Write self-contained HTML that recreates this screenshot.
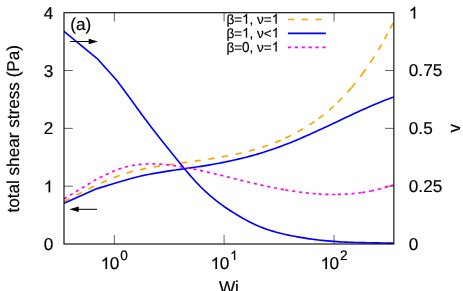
<!DOCTYPE html>
<html><head><meta charset="utf-8"><title>plot</title>
<style>html,body{margin:0;padding:0;background:#fff}body{width:463px;height:291px;overflow:hidden}</style></head>
<body>
<svg width="463" height="291" viewBox="0 0 463 291" style="display:block;will-change:transform;text-rendering:geometricPrecision;font-family:'Liberation Sans',sans-serif">
<path d="M114.33,244.00 v-9.00 M114.33,12.72 v8.80 M224.08,244.00 v-9.00 M224.08,12.72 v8.80 M334.04,244.00 v-9.00 M334.04,12.72 v8.80 M64.00,186.18 h8.80 M64.00,128.36 h8.80 M64.00,70.54 h8.80 M393.86,186.18 h-8.80 M393.86,128.36 h-8.80 M393.86,70.54 h-8.80" stroke="#000" stroke-width="0.62" fill="none"/>
<g fill="none" stroke-width="1.65" stroke-linejoin="round">
<path d="M64.00,201.30 L97.10,184.70 L116.50,176.50 L130.20,172.00 L140.80,169.58 L143.81,168.93 L146.83,168.32 L149.84,167.73 L152.85,167.16 L155.86,166.61 L158.88,166.08 L161.89,165.61 L164.90,165.17 L167.91,164.75 L170.93,164.34 L173.94,163.94 L176.95,163.55 L179.96,163.16 L182.98,162.78 L185.99,162.39 L189.00,161.96 L192.01,161.54 L195.03,161.11 L198.04,160.67 L201.05,160.23 L204.06,159.79 L207.08,159.33 L210.09,158.86 L213.10,158.39 L216.12,157.89 L219.13,157.38 L222.14,156.85 L225.15,156.30 L228.17,155.73 L231.18,155.14 L234.19,154.52 L237.20,153.87 L240.22,153.20 L243.23,152.49 L246.24,151.75 L249.25,150.98 L252.27,150.17 L255.28,149.32 L258.29,148.43 L261.30,147.50 L264.32,146.52 L267.33,145.50 L270.34,144.44 L273.36,143.32 L276.37,142.12 L279.38,140.84 L282.39,139.50 L285.32,138.14 M285.32,138.14 L285.41,138.10 L288.42,136.64 L291.43,135.12 L294.44,133.54 L297.46,131.95 L300.47,130.30 L303.48,128.57 L306.49,126.76 L309.51,124.87 L312.52,122.89 L315.53,120.81 L318.42,118.74 M318.42,118.74 L318.54,118.65 L321.56,116.38 L324.57,114.01 L327.58,111.54 L330.60,108.95 L333.61,106.25 L336.62,103.43 L337.78,102.30 M337.78,102.30 L339.63,100.49 L342.65,97.42 L345.66,94.22 L348.67,90.89 L351.52,87.61 M351.52,87.61 L351.68,87.42 L354.70,83.81 L357.71,80.05 L360.72,76.14 L362.17,74.18 M362.17,74.18 L363.73,72.07 L366.75,67.84 L369.76,63.44 L370.88,61.74 M370.88,61.74 L372.77,58.86 L375.78,54.10 L378.24,50.07 M378.24,50.07 L378.80,49.16 L381.81,44.02 L384.62,39.05 M384.62,39.05 L384.82,38.69 L387.83,33.14 L390.24,28.55 M390.24,28.55 L390.85,27.39 L393.86,21.42" stroke="#ffa500" stroke-dasharray="6.2 7.6"/>
<path d="M64.00,203.30 L97.10,188.60 L116.50,182.70 L130.20,178.70 L140.80,176.05 L143.81,175.42 L146.83,174.81 L149.84,174.23 L152.85,173.66 L155.86,173.12 L158.88,172.60 L161.89,172.09 L164.90,171.59 L167.91,171.10 L170.93,170.64 L173.94,170.22 L176.95,169.80 L179.96,169.38 L182.98,168.96 L185.99,168.54 L189.00,168.11 L192.01,167.68 L195.03,167.25 L198.04,166.80 L201.05,166.35 L204.06,165.89 L207.08,165.39 L210.09,164.86 L213.10,164.31 L216.12,163.76 L219.13,163.19 L222.14,162.60 L225.15,161.99 L228.17,161.37 L231.18,160.72 L234.19,160.06 L237.20,159.38 L240.22,158.67 L243.23,157.93 L246.24,157.18 L249.25,156.39 L252.27,155.58 L255.28,154.74 L258.29,153.87 L261.30,152.97 L264.32,152.04 L267.33,151.08 L270.34,150.08 L273.36,149.05 L276.37,147.98 L279.38,146.88 L282.39,145.75 L285.41,144.60 L288.42,143.41 L291.43,142.20 L294.44,140.96 L297.46,139.70 L300.47,138.42 L303.48,137.12 L306.49,135.80 L309.51,134.46 L312.52,133.11 L315.53,131.74 L318.54,130.36 L321.56,128.97 L324.57,127.56 L327.58,126.15 L330.60,124.73 L333.61,123.31 L336.62,121.88 L339.63,120.45 L342.65,119.02 L345.66,117.59 L348.67,116.17 L351.68,114.76 L354.70,113.35 L357.71,111.96 L360.72,110.58 L363.73,109.22 L366.75,107.88 L369.76,106.55 L372.77,105.26 L375.78,103.98 L378.80,102.74 L381.81,101.52 L384.82,100.34 L387.83,99.19 L390.85,98.09 L393.86,97.02" stroke="#0000ff"/>
<path d="M64.00,198.80 L97.10,178.90 L116.50,169.70 L130.20,165.70 L140.80,164.30 L143.81,164.09 L146.83,163.95 L149.84,163.89 L152.85,163.89 L155.86,163.96 L158.88,164.09 L161.89,164.28 L164.90,164.52 L167.91,164.82 L170.93,165.17 L173.94,165.56 L176.95,166.00 L179.96,166.47 L182.98,166.98 L185.99,167.52 L189.00,168.09 L192.01,168.69 L195.03,169.31 L198.04,169.95 L201.05,170.60 L204.06,171.28 L207.08,171.96 L210.09,172.67 L213.10,173.38 L216.12,174.10 L219.13,174.83 L222.14,175.57 L225.15,176.31 L228.17,177.06 L231.18,177.81 L234.19,178.56 L237.20,179.31 L240.22,180.06 L243.23,180.80 L246.24,181.54 L249.25,182.27 L252.27,182.99 L255.28,183.70 L258.29,184.40 L261.30,185.09 L264.32,185.76 L267.33,186.41 L270.34,187.05 L273.36,187.67 L276.37,188.26 L279.38,188.84 L282.39,189.40 L285.32,189.92 M285.32,189.92 L285.41,189.93 L288.42,190.44 L291.43,190.93 L294.44,191.39 L297.46,191.82 L300.47,192.22 L303.48,192.60 L306.49,192.94 L309.51,193.25 L312.52,193.53 L315.53,193.78 L318.42,193.98 M318.42,193.98 L318.54,193.99 L321.56,194.16 L324.57,194.30 L327.58,194.40 L330.60,194.46 L333.61,194.48 L336.62,194.46 L337.78,194.44 M337.78,194.44 L339.63,194.40 L342.65,194.29 L345.66,194.14 L348.67,193.94 L351.52,193.71 M351.52,193.71 L351.68,193.70 L354.70,193.41 L357.71,193.07 L360.72,192.68 L362.17,192.46 M362.17,192.46 L363.73,192.23 L366.75,191.74 L369.76,191.19 L370.88,190.97 M370.88,190.97 L372.77,190.59 L375.78,189.93 L378.24,189.35 M378.24,189.35 L378.80,189.22 L381.81,188.45 L384.62,187.68 M384.62,187.68 L384.82,187.62 L387.83,186.73 L390.24,185.97 M390.24,185.97 L390.85,185.78 L393.86,184.76" stroke="#ff00ff" stroke-dasharray="3.2 3.7"/>
<path d="M64.00,31.40 L96.90,58.30 L116.50,80.00 L130.20,98.50 L140.80,113.23 L143.81,117.32 L146.83,121.35 L149.84,125.32 L152.85,129.24 L155.86,133.11 L158.88,136.94 L161.89,140.74 L164.90,144.52 L167.91,148.29 L170.93,152.05 L173.94,155.81 L176.95,159.56 L179.96,163.28 L182.98,166.96 L185.99,170.58 L189.00,174.12 L192.01,177.58 L195.03,180.93 L198.04,184.15 L201.05,187.23 L204.06,190.17 L207.08,192.96 L210.09,195.62 L213.10,198.16 L216.12,200.59 L219.13,202.90 L222.14,205.11 L225.15,207.24 L228.17,209.27 L231.18,211.24 L234.19,213.13 L237.20,214.96 L240.22,216.74 L243.23,218.47 L246.24,220.12 L249.25,221.71 L252.27,223.23 L255.28,224.65 L258.29,225.99 L261.30,227.23 L264.32,228.39 L267.33,229.46 L270.34,230.45 L273.36,231.37 L276.37,232.23 L279.38,233.03 L282.39,233.77 L285.41,234.46 L288.42,235.11 L291.43,235.72 L294.44,236.30 L297.46,236.85 L300.47,237.38 L303.48,237.88 L306.49,238.36 L309.51,238.81 L312.52,239.23 L315.53,239.63 L318.54,239.99 L321.56,240.33 L324.57,240.65 L327.58,240.93 L330.60,241.19 L333.61,241.42 L336.62,241.62 L339.63,241.81 L342.65,241.97 L345.66,242.12 L348.67,242.25 L351.68,242.36 L354.70,242.46 L357.71,242.54 L360.72,242.62 L363.73,242.68 L366.75,242.74 L369.76,242.79 L372.77,242.84 L375.78,242.89 L378.80,242.93 L381.81,242.98 L384.82,243.03 L387.83,243.08 L390.85,243.14 L393.86,243.20" stroke="#0000ff"/>
<path d="M287.9,19.5 H325.8" stroke="#ffa500" stroke-dasharray="6.2 7.6"/>
<path d="M287.9,33.3 H325.8" stroke="#0000ff"/>
<path d="M287.9,47.3 H325.8" stroke="#ff00ff" stroke-dasharray="3.2 3.7"/>
</g>
<rect x="64.00" y="12.72" width="329.86" height="231.28" fill="none" stroke="#000" stroke-width="1.1"/>
<path d="M70,41.5 H92 M97.0,209.3 H75" stroke="#000" stroke-width="1" fill="none"/>
<path d="M97.9,41.5 L88.7,38.7 L88.7,44.3 Z M69.3,209.3 L78.7,206.5 L78.7,212.1 Z" fill="#000"/>
<g fill="#000" stroke="#000" stroke-width="0.18" stroke-linejoin="round">
<g transform="translate(53.30,250.10)"><text x="-9.57" y="0" font-size="17.20" xml:space="preserve">0</text></g>
<g transform="translate(53.30,192.28)"><path vector-effect="non-scaling-stroke" d="M763 0H583V1098Q518 1038 412.5 979Q307 920 223 890V1057Q374 1125 487 1221Q600 1318 647 1409H763Z" transform="translate(-9.57,0) scale(0.00840,-0.00840)"/></g>
<g transform="translate(53.30,134.46)"><text x="-9.57" y="0" font-size="17.20" xml:space="preserve">2</text></g>
<g transform="translate(53.30,76.64)"><text x="-9.57" y="0" font-size="17.20" xml:space="preserve">3</text></g>
<g transform="translate(53.30,18.82)"><text x="-9.57" y="0" font-size="17.20" xml:space="preserve">4</text></g>
<g transform="translate(408.80,249.90)"><text x="0.00" y="0" font-size="17.20" xml:space="preserve">0</text></g>
<g transform="translate(408.80,192.08)"><text x="0.00" y="0" font-size="17.20" xml:space="preserve">0.25</text></g>
<g transform="translate(408.80,134.26)"><text x="0.00" y="0" font-size="17.20" xml:space="preserve">0.5</text></g>
<g transform="translate(408.80,76.44)"><text x="0.00" y="0" font-size="17.20" xml:space="preserve">0.75</text></g>
<g transform="translate(408.80,18.62)"><path vector-effect="non-scaling-stroke" d="M763 0H583V1098Q518 1038 412.5 979Q307 920 223 890V1057Q374 1125 487 1221Q600 1318 647 1409H763Z" transform="translate(0.00,0) scale(0.00840,-0.00840)"/></g>
<g transform="translate(100.63,269.00)"><path vector-effect="non-scaling-stroke" d="M763 0H583V1098Q518 1038 412.5 979Q307 920 223 890V1057Q374 1125 487 1221Q600 1318 647 1409H763Z" transform="translate(0.00,0) scale(0.00840,-0.00840)"/></g>
<g transform="translate(109.70,269.00)"><text x="0.00" y="0" font-size="17.20" xml:space="preserve">0</text></g>
<g transform="translate(120.13,260.00)"><text x="0.00" y="0" font-size="13.70" xml:space="preserve">0</text></g>
<g transform="translate(210.58,269.00)"><path vector-effect="non-scaling-stroke" d="M763 0H583V1098Q518 1038 412.5 979Q307 920 223 890V1057Q374 1125 487 1221Q600 1318 647 1409H763Z" transform="translate(0.00,0) scale(0.00840,-0.00840)"/></g>
<g transform="translate(219.65,269.00)"><text x="0.00" y="0" font-size="17.20" xml:space="preserve">0</text></g>
<g transform="translate(230.08,260.00)"><path vector-effect="non-scaling-stroke" d="M763 0H583V1098Q518 1038 412.5 979Q307 920 223 890V1057Q374 1125 487 1221Q600 1318 647 1409H763Z" transform="translate(0.00,0) scale(0.00669,-0.00669)"/></g>
<g transform="translate(320.54,269.00)"><path vector-effect="non-scaling-stroke" d="M763 0H583V1098Q518 1038 412.5 979Q307 920 223 890V1057Q374 1125 487 1221Q600 1318 647 1409H763Z" transform="translate(0.00,0) scale(0.00840,-0.00840)"/></g>
<g transform="translate(329.60,269.00)"><text x="0.00" y="0" font-size="17.20" xml:space="preserve">0</text></g>
<g transform="translate(340.04,260.00)"><text x="0.00" y="0" font-size="13.70" xml:space="preserve">2</text></g>
<g transform="translate(228.90,292.80)"><text x="-10.03" y="0" font-size="17.20" xml:space="preserve">Wi</text></g>
<g transform="translate(19.40,128.75) rotate(-90)"><text x="-83.87" y="0" font-size="17.15" xml:space="preserve">total shear stress (Pa)</text></g>
<g transform="translate(460.10,128.20) rotate(-90)"><text x="-4.30" y="0" font-size="17.20" xml:space="preserve">v</text></g>
<g transform="translate(70.20,30.40)"><text x="0.00" y="0" font-size="17.20" xml:space="preserve">(a)</text></g>
<g transform="translate(279.20,23.70)"><text x="-52.80" y="0" font-size="13.50" xml:space="preserve">β=</text><path vector-effect="non-scaling-stroke" d="M763 0H583V1098Q518 1038 412.5 979Q307 920 223 890V1057Q374 1125 487 1221Q600 1318 647 1409H763Z" transform="translate(-37.15,0) scale(0.00659,-0.00705)"/><text x="-29.64" y="0" font-size="13.50" xml:space="preserve">, ν=</text><path vector-effect="non-scaling-stroke" d="M763 0H583V1098Q518 1038 412.5 979Q307 920 223 890V1057Q374 1125 487 1221Q600 1318 647 1409H763Z" transform="translate(-7.51,0) scale(0.00659,-0.00705)"/></g>
<g transform="translate(279.20,37.60)"><text x="-52.80" y="0" font-size="13.50" xml:space="preserve">β=</text><path vector-effect="non-scaling-stroke" d="M763 0H583V1098Q518 1038 412.5 979Q307 920 223 890V1057Q374 1125 487 1221Q600 1318 647 1409H763Z" transform="translate(-37.15,0) scale(0.00659,-0.00705)"/><text x="-29.64" y="0" font-size="13.50" xml:space="preserve">, ν&lt;</text><path vector-effect="non-scaling-stroke" d="M763 0H583V1098Q518 1038 412.5 979Q307 920 223 890V1057Q374 1125 487 1221Q600 1318 647 1409H763Z" transform="translate(-7.51,0) scale(0.00659,-0.00705)"/></g>
<g transform="translate(279.20,51.50)"><text x="-52.80" y="0" font-size="13.50" xml:space="preserve">β=</text><text transform="scale(1,1.070)" x="-37.15" y="0" font-size="13.50">0</text><text x="-29.64" y="0" font-size="13.50" xml:space="preserve">, ν=</text><path vector-effect="non-scaling-stroke" d="M763 0H583V1098Q518 1038 412.5 979Q307 920 223 890V1057Q374 1125 487 1221Q600 1318 647 1409H763Z" transform="translate(-7.51,0) scale(0.00659,-0.00705)"/></g>
</g>
</svg>
</body></html>
